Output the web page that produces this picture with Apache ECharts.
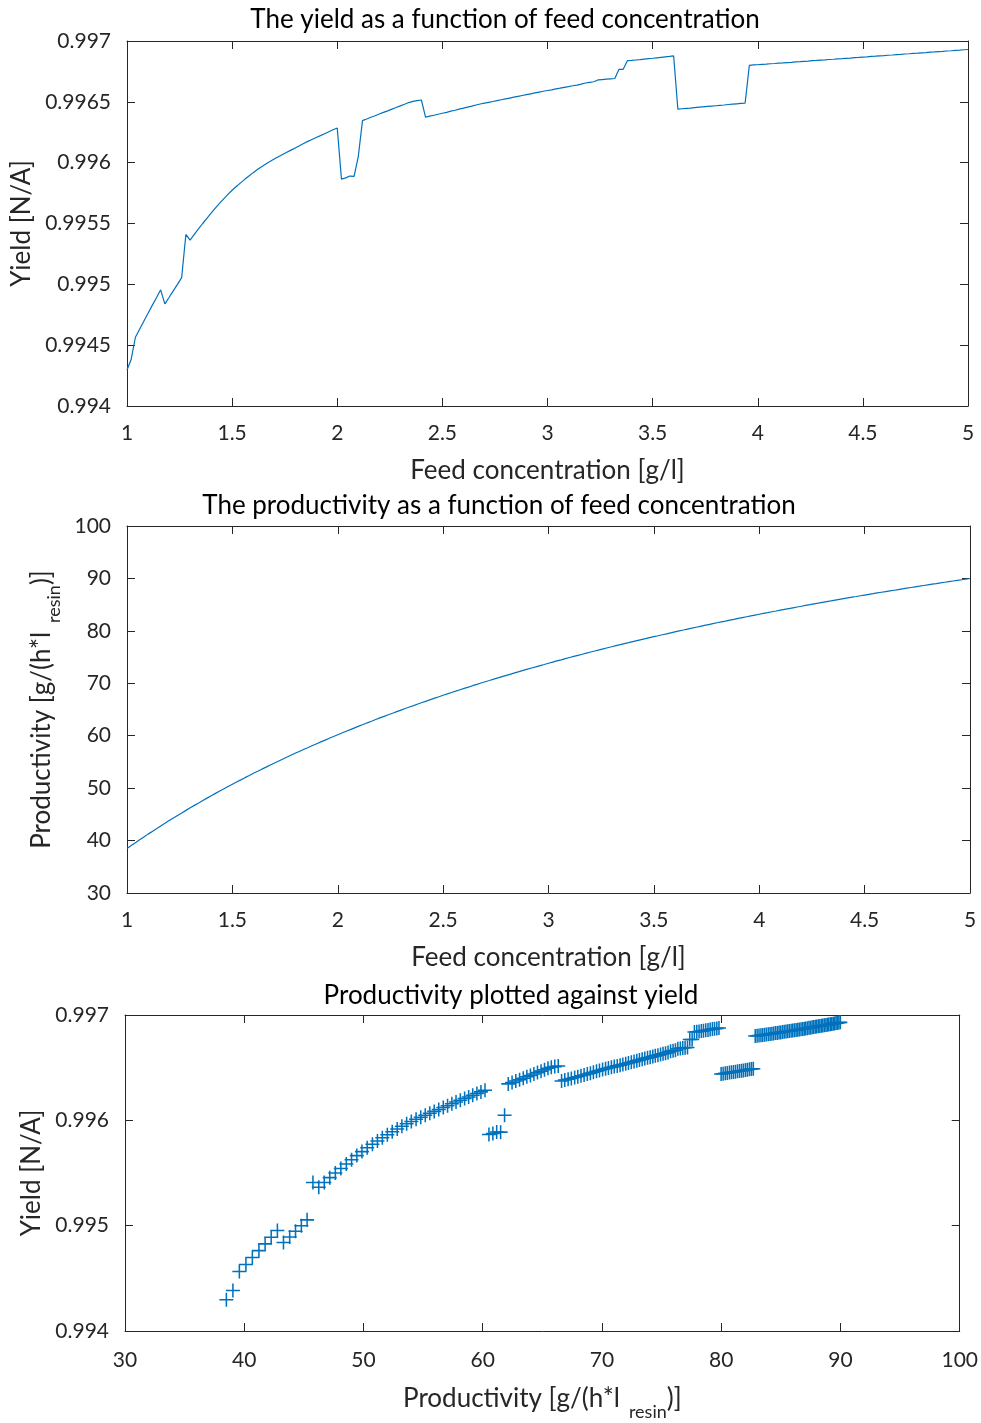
<!DOCTYPE html>
<html>
<head>
<meta charset="utf-8">
<script src="https://cdn.jsdelivr.net/npm/echarts@6/dist/echarts.min.js"></script>
<style>
html,body{margin:0;padding:0;background:#fff;}
#chart{width:981px;height:1423px;}
</style>
</head>
<body>
<div id="chart"></div>
<script>
// feed concentration sweep [g/l]
var feedConc = [
 1.00,1.02,1.04,1.06,1.08,1.10,1.12,1.14,1.16,1.18,
 1.20,1.22,1.24,1.26,1.28,1.30,1.32,1.34,1.36,1.38,
 1.40,1.42,1.44,1.46,1.48,1.50,1.52,1.54,1.56,1.58,
 1.60,1.62,1.64,1.66,1.68,1.70,1.72,1.74,1.76,1.78,
 1.80,1.82,1.84,1.86,1.88,1.90,1.92,1.94,1.96,1.98,
 2.00,2.02,2.04,2.06,2.08,2.10,2.12,2.14,2.16,2.18,
 2.20,2.22,2.24,2.26,2.28,2.30,2.32,2.34,2.36,2.38,
 2.40,2.42,2.44,2.46,2.48,2.50,2.52,2.54,2.56,2.58,
 2.60,2.62,2.64,2.66,2.68,2.70,2.72,2.74,2.76,2.78,
 2.80,2.82,2.84,2.86,2.88,2.90,2.92,2.94,2.96,2.98,
 3.00,3.02,3.04,3.06,3.08,3.10,3.12,3.14,3.16,3.18,
 3.20,3.22,3.24,3.26,3.28,3.30,3.32,3.34,3.36,3.38,
 3.40,3.42,3.44,3.46,3.48,3.50,3.52,3.54,3.56,3.58,
 3.60,3.62,3.64,3.66,3.68,3.70,3.72,3.74,3.76,3.78,
 3.80,3.82,3.84,3.86,3.88,3.90,3.92,3.94,3.96,3.98,
 4.00,4.02,4.04,4.06,4.08,4.10,4.12,4.14,4.16,4.18,
 4.20,4.22,4.24,4.26,4.28,4.30,4.32,4.34,4.36,4.38,
 4.40,4.42,4.44,4.46,4.48,4.50,4.52,4.54,4.56,4.58,
 4.60,4.62,4.64,4.66,4.68,4.70,4.72,4.74,4.76,4.78,
 4.80,4.82,4.84,4.86,4.88,4.90,4.92,4.94,4.96,4.98,
 5.00
];

// yield [N/A] at each feed concentration
var yieldVals = [
 0.994296,0.994385,0.994565,0.994631,0.994697,0.994763,0.994827,0.994890,0.994955,0.994840,
 0.994892,0.994946,0.995000,0.995055,0.995410,0.995364,0.995410,0.995456,0.995500,0.995543,
 0.995585,0.995626,0.995665,0.995703,0.995739,0.995773,0.995804,0.995834,0.995863,0.995891,
 0.995918,0.995943,0.995967,0.995989,0.996010,0.996030,0.996049,0.996067,0.996085,0.996103,
 0.996121,0.996139,0.996157,0.996175,0.996191,0.996207,0.996222,0.996238,0.996254,0.996270,
 0.996285,0.995865,0.995875,0.995890,0.995888,0.996049,0.996346,0.996359,0.996373,0.996386,
 0.996400,0.996413,0.996426,0.996440,0.996453,0.996467,0.996480,0.996494,0.996504,0.996510,
 0.996515,0.996374,0.996382,0.996390,0.996398,0.996406,0.996414,0.996423,0.996431,0.996440,
 0.996448,0.996457,0.996465,0.996474,0.996482,0.996489,0.996496,0.996503,0.996510,0.996517,
 0.996524,0.996531,0.996538,0.996545,0.996552,0.996559,0.996566,0.996573,0.996580,0.996587,
 0.996593,0.996599,0.996606,0.996612,0.996619,0.996625,0.996632,0.996638,0.996645,0.996655,
 0.996660,0.996665,0.996680,0.996683,0.996686,0.996689,0.996692,0.996767,0.996767,0.996838,
 0.996840,0.996844,0.996847,0.996851,0.996855,0.996858,0.996862,0.996866,0.996870,0.996873,
 0.996877,0.996440,0.996443,0.996446,0.996449,0.996453,0.996456,0.996459,0.996462,0.996465,
 0.996468,0.996471,0.996474,0.996478,0.996481,0.996484,0.996487,0.996490,0.996800,0.996803,
 0.996805,0.996808,0.996810,0.996813,0.996815,0.996818,0.996820,0.996823,0.996825,0.996828,
 0.996830,0.996833,0.996835,0.996838,0.996840,0.996843,0.996845,0.996848,0.996850,0.996853,
 0.996855,0.996858,0.996860,0.996863,0.996865,0.996868,0.996870,0.996873,0.996875,0.996878,
 0.996880,0.996883,0.996885,0.996888,0.996890,0.996893,0.996895,0.996898,0.996900,0.996903,
 0.996905,0.996908,0.996910,0.996913,0.996915,0.996918,0.996920,0.996923,0.996925,0.996928,
 0.996930
];

// productivity [g/(h*l_resin)] at each feed concentration
var productivity = [
 38.50,39.05,39.59,40.14,40.68,41.23,41.75,42.26,42.78,43.29,
 43.81,44.30,44.79,45.27,45.76,46.25,46.71,47.17,47.64,48.10,
 48.56,49.00,49.44,49.87,50.31,50.75,51.17,51.58,52.00,52.41,
 52.83,53.22,53.62,54.01,54.41,54.80,55.18,55.56,55.93,56.31,
 56.69,57.05,57.41,57.76,58.12,58.48,58.82,59.16,59.51,59.85,
 60.19,60.52,60.85,61.17,61.50,61.83,62.14,62.46,62.77,63.09,
 63.40,63.70,64.00,64.29,64.59,64.89,65.18,65.47,65.75,66.04,
 66.33,66.61,66.88,67.16,67.43,67.71,67.97,68.24,68.50,68.77,
 69.03,69.28,69.54,69.79,70.05,70.30,70.54,70.79,71.03,71.28,
 71.52,71.75,71.99,72.22,72.46,72.69,72.92,73.14,73.37,73.59,
 73.82,74.04,74.26,74.47,74.69,74.91,75.12,75.33,75.54,75.75,
 75.96,76.16,76.36,76.57,76.77,76.97,77.17,77.36,77.56,77.75,
 77.95,78.14,78.33,78.51,78.70,78.89,79.07,79.26,79.44,79.63,
 79.81,79.99,80.16,80.34,80.51,80.69,80.86,81.03,81.20,81.37,
 81.54,81.71,81.87,82.04,82.20,82.37,82.53,82.69,82.85,83.01,
 83.17,83.33,83.48,83.64,83.79,83.95,84.10,84.25,84.40,84.55,
 84.70,84.85,84.99,85.14,85.28,85.43,85.57,85.71,85.86,86.00,
 86.14,86.28,86.42,86.55,86.69,86.83,86.96,87.09,87.23,87.36,
 87.49,87.62,87.75,87.88,88.01,88.14,88.27,88.40,88.52,88.65,
 88.78,88.90,89.02,89.15,89.27,89.39,89.51,89.63,89.75,89.87,
 89.99
];

var titles = [
 'The yield as a function of feed concentration',
 'The productivity as a function of feed concentration',
 'Productivity plotted against yield'
];

var blue = '#0072BD';
var ink = '#262626';
var fontFam = 'Lato, "Open Sans", sans-serif';

function pairs(xs, ys){
	var out = [];
	for (var i = 0; i < xs.length; i++) {
		out.push([xs[i], ys[i]]);
	}
	return out;
}

function trimNum(v){
	return String(parseFloat(v.toFixed(4)));
}

// one side of the MATLAB style box; labels only on bottom/left
function boxAxis(grid, pos, min, max, step, labelled, margin){
	return {
		type: 'value',
		gridIndex: grid,
		position: pos,
		min: min,
		max: max,
		interval: step,
		axisLine: {show: true, onZero: false, lineStyle: {color: ink, width: 1}},
		axisTick: {show: true, inside: true, length: 8, lineStyle: {color: ink, width: 1}},
		axisLabel: {show: labelled, color: ink, fontSize: 21, fontFamily: fontFam,
			margin: margin, formatter: trimNum},
		splitLine: {show: false}
	};
}

function named(axis, name, gap, rotate){
	axis.name = name;
	axis.nameLocation = 'middle';
	axis.nameGap = gap;
	if (rotate) axis.nameRotate = 90;
	axis.nameTextStyle = {
		color: ink, fontSize: 26, fontFamily: fontFam,
		rich: {
			m: {fontSize: 26, color: ink, fontFamily: fontFam, verticalAlign: 'top'},
			s: {fontSize: 18, color: ink, fontFamily: fontFam, verticalAlign: 'top', padding: [17, 0, 0, 9]}
		}
	};
	return axis;
}

var prodName = '{m|Productivity [g/(h*l}{s|resin}{m|)]}';

var xAxes = [
	named(boxAxis(0, 'bottom', 1, 5, 0.5, true, 17), 'Feed concentration [g/l]', 52),
	boxAxis(0, 'top', 1, 5, 0.5, false, 8),
	named(boxAxis(1, 'bottom', 1, 5, 0.5, true, 17), 'Feed concentration [g/l]', 52),
	boxAxis(1, 'top', 1, 5, 0.5, false, 8),
	named(boxAxis(2, 'bottom', 30, 100, 10, true, 19), prodName, 55),
	boxAxis(2, 'top', 30, 100, 10, false, 8)
];
var yAxes = [
	named(boxAxis(0, 'left', 0.994, 0.997, 0.0005, true, 16), 'Yield [N/A]', 86, true),
	boxAxis(0, 'right', 0.994, 0.997, 0.0005, false, 8),
	named(boxAxis(1, 'left', 30, 100, 10, true, 16), prodName, 63, true),
	boxAxis(1, 'right', 30, 100, 10, false, 8),
	named(boxAxis(2, 'left', 0.994, 0.997, 0.001, true, 16), 'Yield [N/A]', 79, true),
	boxAxis(2, 'right', 0.994, 0.997, 0.001, false, 8)
];

var plusPath = 'path://M4.45,0 L5.55,0 L5.55,4.45 L10,4.45 L10,5.55 L5.55,5.55 L5.55,10 L4.45,10 L4.45,5.55 L0,5.55 L0,4.45 L4.45,4.45 Z';

function titleBox(text, cx, top){
	return {text: text, left: cx, top: top, textAlign: 'center', padding: 0,
		textStyle: {fontSize: 26, fontWeight: 'normal', color: '#000', fontFamily: fontFam}};
}

var option = {
	backgroundColor: '#fff',
	animation: false,
	title: [
		titleBox(titles[0], 505, 7),
		titleBox(titles[1], 499, 493),
		titleBox(titles[2], 511, 983)
	],
	grid: [
		{left: 127, top: 41, width: 841, height: 365},
		{left: 127, top: 526, width: 843, height: 367},
		{left: 125, top: 1015, width: 835, height: 316}
	],
	xAxis: xAxes,
	yAxis: yAxes,
	series: [
		{
			type: 'line', xAxisIndex: 0, yAxisIndex: 0,
			data: pairs(feedConc, yieldVals),
			showSymbol: false, symbol: 'none',
			lineStyle: {color: blue, width: 1.2}
		},
		{
			type: 'line', xAxisIndex: 2, yAxisIndex: 2,
			data: pairs(feedConc, productivity),
			showSymbol: false, symbol: 'none',
			lineStyle: {color: blue, width: 1.2}
		},
		{
			type: 'scatter', xAxisIndex: 4, yAxisIndex: 4,
			data: pairs(productivity, yieldVals),
			symbol: plusPath, symbolSize: 14,
			itemStyle: {color: blue, opacity: 1}
		}
	]
};

var myChart = echarts.init(document.getElementById('chart'), null, {renderer: 'canvas'});
myChart.setOption(option);
</script>
</body>
</html>
